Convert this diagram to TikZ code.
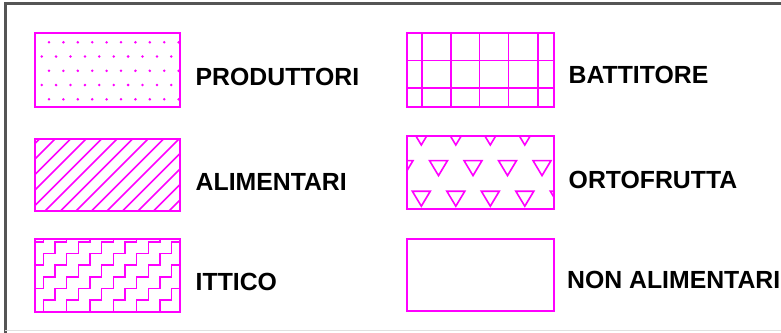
\documentclass[tikz,border=0pt]{standalone}
\usepackage{fontspec}
\setmainfont{Liberation Sans}
\definecolor{mag}{RGB}{255,0,255}
\definecolor{framegray}{RGB}{85,85,85}
\begin{document}
\begin{tikzpicture}[x=1pt,y=-1pt,
  swatch/.style={draw=mag, line width=1.8pt, minimum height=74pt, inner sep=0pt, outer sep=0pt},
  lbl/.style={anchor=base west, font=\fontsize{24.8}{28}\selectfont\bfseries, inner sep=0pt},
  pat/.style={draw=mag, line width=1.6pt},
  dot/.style={fill=mag},
  frameline/.style={draw=framegray, line width=2.4pt}]
\useasboundingbox (0,0) rectangle (781,332);
% frame
\draw[frameline] (5.3,334) -- (5.3,3.3) -- (790,3.3);
\draw[draw=black!12, line width=0.8pt] (5.3,330.2) -- (790,330.2);

% swatches
\node[swatch, minimum width=145pt, minimum height=74pt] (prod) at (107.5,70) {};
\node[swatch, minimum width=145pt, minimum height=72pt] (alim) at (107.5,175) {};
\node[swatch, minimum width=145pt, minimum height=73pt] (itt)  at (107.5,275.5) {};
\node[swatch, minimum width=147pt, minimum height=74pt] (batt) at (480.5,70) {};
\node[swatch, minimum width=147pt, minimum height=73pt] (orto) at (480.5,172.5) {};
\node[swatch, minimum width=147pt, minimum height=72pt] (non)  at (480.5,275) {};

% dots
\begin{scope}
\clip (prod.south west) rectangle (prod.north east);
\foreach \y in {42.3,70.8,99.3}
  \foreach \c in {0,...,9}
    \fill[dot] ({49+14.4*\c},\y) circle (1.4);
\foreach \y in {56.5,85}
  \foreach \c in {0,...,9}
    \fill[dot] ({41.7+14.4*\c},\y) circle (1.4);
\end{scope}

% diagonal hatch
\begin{scope}
\clip (alim.south west) rectangle (alim.north east);
\foreach \k in {-1,...,14}
  \draw[pat] ({178.5+15.5*\k-216},216) -- ({178.5+15.5*\k-134},134);
\end{scope}

% staircase (zigzag)
\begin{scope}
\clip (itt.south west) rectangle (itt.north east);
\foreach \s in {-5,...,6}
  \draw[pat] ({43.3+23.33*\s},323.5) \foreach \j in {1,...,8}{ -- ++(11.67,0) -- ++(0,-11.67)};
\end{scope}

% grid
\begin{scope}
\clip (batt.south west) rectangle (batt.north east);
\foreach \x in {421.7,450.7,479.5,508.5,537.7}
  \draw[pat] (\x,30) -- (\x,110);
\foreach \y in {60.3,87.7}
  \draw[pat] (400,\y) -- (560,\y);
\end{scope}

% triangles
\begin{scope}
\clip (orto.south west) rectangle (orto.north east);
\foreach \t in {130,191.2}
  \foreach \k in {-1,...,4}
    \draw[pat] ({421.3+34.5*\k-9},\t) -- ({421.3+34.5*\k+9},\t) -- ({421.3+34.5*\k},\t+15) -- cycle;
\foreach \k in {-1,...,4}
  \draw[pat] ({438.5+34.5*\k-9},160.6) -- ({438.5+34.5*\k+9},160.6) -- ({438.5+34.5*\k},175.6) -- cycle;
\end{scope}

% redraw borders on top
\foreach \n in {prod,alim,itt,batt,orto,non}
  \draw[draw=mag, line width=1.8pt] (\n.south west) rectangle (\n.north east);

% labels
\node[lbl] (lprod) at (195.5,85) {PRODUTTORI};
\node[lbl] (lalim) at (195.5,190) {ALIMENTARI};
\node[lbl] (litt)  at (195.5,290) {ITTICO};
\node[lbl] (lbatt) at (568.5,83) {BATTITORE};
\node[lbl] (lorto) at (568.5,188) {ORTOFRUTTA};
\node[lbl] (lnon)  at (567,288) {NON ALIMENTARI};
\end{tikzpicture}
\end{document}
